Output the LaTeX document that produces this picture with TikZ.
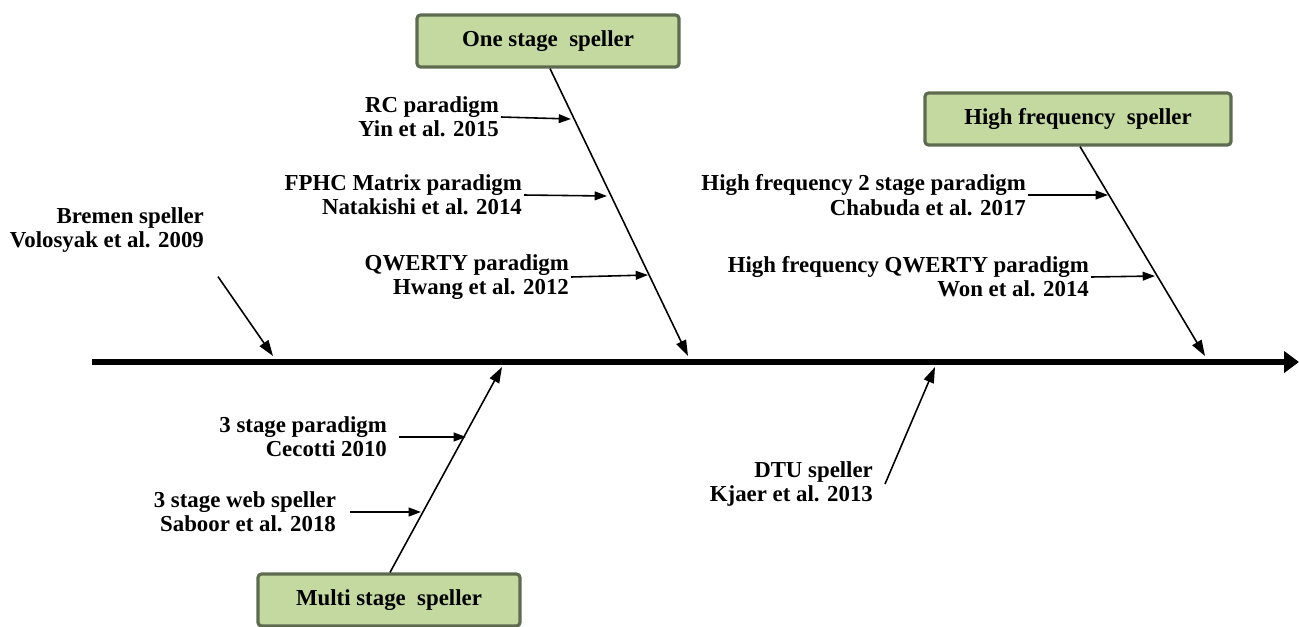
\documentclass[tikz,border=0pt]{standalone}
\usepackage{fontspec}
\setmainfont{Liberation Serif}
\usetikzlibrary{arrows.meta,calc}
\definecolor{boxfill}{HTML}{C4D9A0}
\definecolor{boxline}{HTML}{5E6B50}
\begin{document}
\begin{tikzpicture}[x=0.02cm,y=-0.02cm,
  catbox/.style={draw=boxline,fill=boxfill,line width=1.8pt,rounded corners=2pt,
    minimum height=52*0.02cm,inner sep=0pt,font=\bfseries\fontsize{13}{14}\selectfont},
  lbl/.style={align=right,anchor=east,inner sep=1pt,font=\bfseries\fontsize{13}{13.8}\selectfont},
  bone/.style={line width=0.9pt,-{Triangle[length=9pt,width=6pt]}},
  rib/.style={line width=0.9pt,-{Triangle[length=7pt,width=5pt]}}]
\useasboundingbox (0,0) rectangle (1299,626);
% spine
\coordinate (s0) at (92,362);
\coordinate (s1) at (1299,362);
\draw[line width=3.4pt,-{Triangle[length=8.5pt,width=12pt]}] (s0) -- (s1);
% boxes
\node[catbox,minimum width=262*0.02cm] (one) at (548,41) {One stage\ \ speller};
\node[catbox,minimum width=306*0.02cm] (high) at (1078,119) {High frequency\ \ speller};
\node[catbox,minimum width=262*0.02cm] (multi) at (389,600) {Multi stage\ \ speller};
% bones
\coordinate (oneT) at (688,356);
\coordinate (highT) at (1205,356);
\coordinate (multiT) at (502,367);
\draw[bone] (one.south) ++(2,0) -- (oneT);
\draw[bone] (high.south) ++(2,0) -- (highT);
\draw[bone] (multi.north) ++(1,0) -- (multiT);
% Bremen
\node[lbl] (brem) at (206,230) {Bremen speller\\Volosyak et al. 2009};
\coordinate (bremT) at (273,356);
\draw[bone] ($(brem.south east)+(12,22)$) coordinate (bremS) -- (bremT);
% DTU
\node[lbl] (dtu) at (875,484) {DTU speller\\Kjaer et al. 2013};
\coordinate (dtuT) at (935,367);
\draw[bone] ($(dtu.east)+(10,0)$) coordinate (dtuS) -- (dtuT);
% one stage ribs
\node[lbl] (rc) at (501,117) {RC paradigm\\Yin et al. 2015};
\coordinate (rcT) at (571,119);
\draw[rib] (rc.east) -- (rcT);
\node[lbl] (fp) at (524,195) {FPHC Matrix paradigm\\Natakishi et al. 2014};
\coordinate (fpT) at (607,196);
\draw[rib] (fp.east) -- (fpT);
\node[lbl] (qw) at (571,277) {QWERTY paradigm\\Hwang et al. 2012};
\coordinate (qwT) at (648,275);
\draw[rib] (qw.east) -- (qwT);
% high frequency ribs
\node[lbl] (hf2) at (1028,195) {High frequency 2 stage paradigm\\Chabuda et al. 2017};
\coordinate (hf2T) at (1108,195);
\draw[rib] (hf2.east) -- (hf2T);
\node[lbl] (hfq) at (1091,277) {High frequency QWERTY paradigm\\Won et al. 2014};
\coordinate (hfqT) at (1155,276);
\draw[rib] (hfq.east) -- (hfqT);
% multi stage ribs
\node[lbl] (s3) at (389,437) {3 stage paradigm\\Cecotti 2010};
\coordinate (s3T) at (466,437);
\draw[rib] ($(s3.east)+(10,0)$) coordinate (s3S) -- (s3T);
\node[lbl] (s3w) at (338,512) {3 stage web speller\\Saboor et al. 2018};
\coordinate (s3wT) at (421,512);
\draw[rib] ($(s3w.east)+(12,0)$) coordinate (s3wS) -- (s3wT);
\end{tikzpicture}
\end{document}
